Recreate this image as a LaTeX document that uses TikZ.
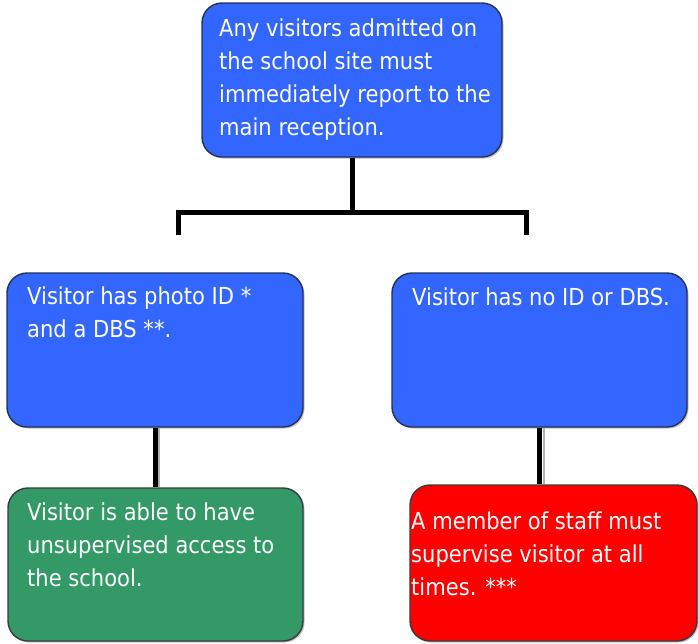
\documentclass[tikz,border=0pt]{standalone}
\usepackage{fontspec}
\setmainfont{DejaVu Sans}[FakeStretch=0.9]
\usetikzlibrary{shadows}
\definecolor{boxblue}{HTML}{3366FF}
\definecolor{boxgreen}{HTML}{339966}
\definecolor{boxred}{HTML}{FF0000}
\definecolor{edgeblue}{HTML}{22305A}
\definecolor{edgegray}{HTML}{3A3A3A}
\begin{document}
\begin{tikzpicture}[x=1pt,y=-1pt,
  box/.style={draw, line width=1.4pt, rounded corners=20pt, inner sep=0pt,
    drop shadow={shadow xshift=1.5pt, shadow yshift=-1.5pt, fill=black, opacity=0.25}},
  bluebox/.style={box, fill=boxblue, draw=edgeblue},
  greenbox/.style={box, fill=boxgreen, draw=edgegray},
  redbox/.style={box, fill=boxred, draw=edgegray},
  txt/.style={anchor=base west, inner sep=0pt, align=left, text=white,
    font=\fontsize{23.4}{33}\selectfont},
  conn/.style={draw=black, line width=5pt},
  connshadow/.style={draw=black!30, line width=2pt}
]
\useasboundingbox (0,0) rectangle (698,643);

% boxes
\node[bluebox, minimum width=300pt, minimum height=154pt] (top) at (352,80) {};
\node[bluebox, minimum width=296pt, minimum height=154pt] (ml) at (155,350) {};
\node[bluebox, minimum width=295pt, minimum height=154pt] (mr) at (539.5,350) {};
\node[greenbox, minimum width=295pt, minimum height=153pt] (gr) at (155.5,564.5) {};
\node[redbox, minimum width=287pt, minimum height=156pt] (rd) at (553.5,563) {};

% texts (anchored at the baseline of the last line)
\begin{scope}
\clip (202,0) rectangle (502,139);
\node[txt] (topt) at (219,135) {Any visitors admitted on\\the school site must\\immediately report to the\\main reception.};
\end{scope}
\node[txt] (mlt) at (27,337) {Visitor has photo ID *\\and a DBS **.};
\node[txt] (mrt) at (412,305) {Visitor has no ID or DBS.};
\node[txt] (grt) at (27,586) {Visitor is able to have\\unsupervised access to\\the school.};
\node[txt] (rdt) at (411,595) {A member of staff must\\supervise visitor at all\\times. ***};

% connectors
\coordinate (jn) at (352,212);
\coordinate (el) at (178,235);
\coordinate (er) at (526,235);
\draw[conn] (top.south) -- (jn);
\draw[conn] (el) |- (jn) -| (er);

\draw[connshadow] ([xshift=4pt]ml.south) -- ([xshift=4pt]ml.south |- gr.north);
\draw[conn] (ml.south) -- (ml.south |- gr.north);
\draw[connshadow] ([xshift=4pt]mr.south) -- ([xshift=4pt]mr.south |- rd.north);
\draw[conn] (mr.south) -- (mr.south |- rd.north);
\end{tikzpicture}
\end{document}
